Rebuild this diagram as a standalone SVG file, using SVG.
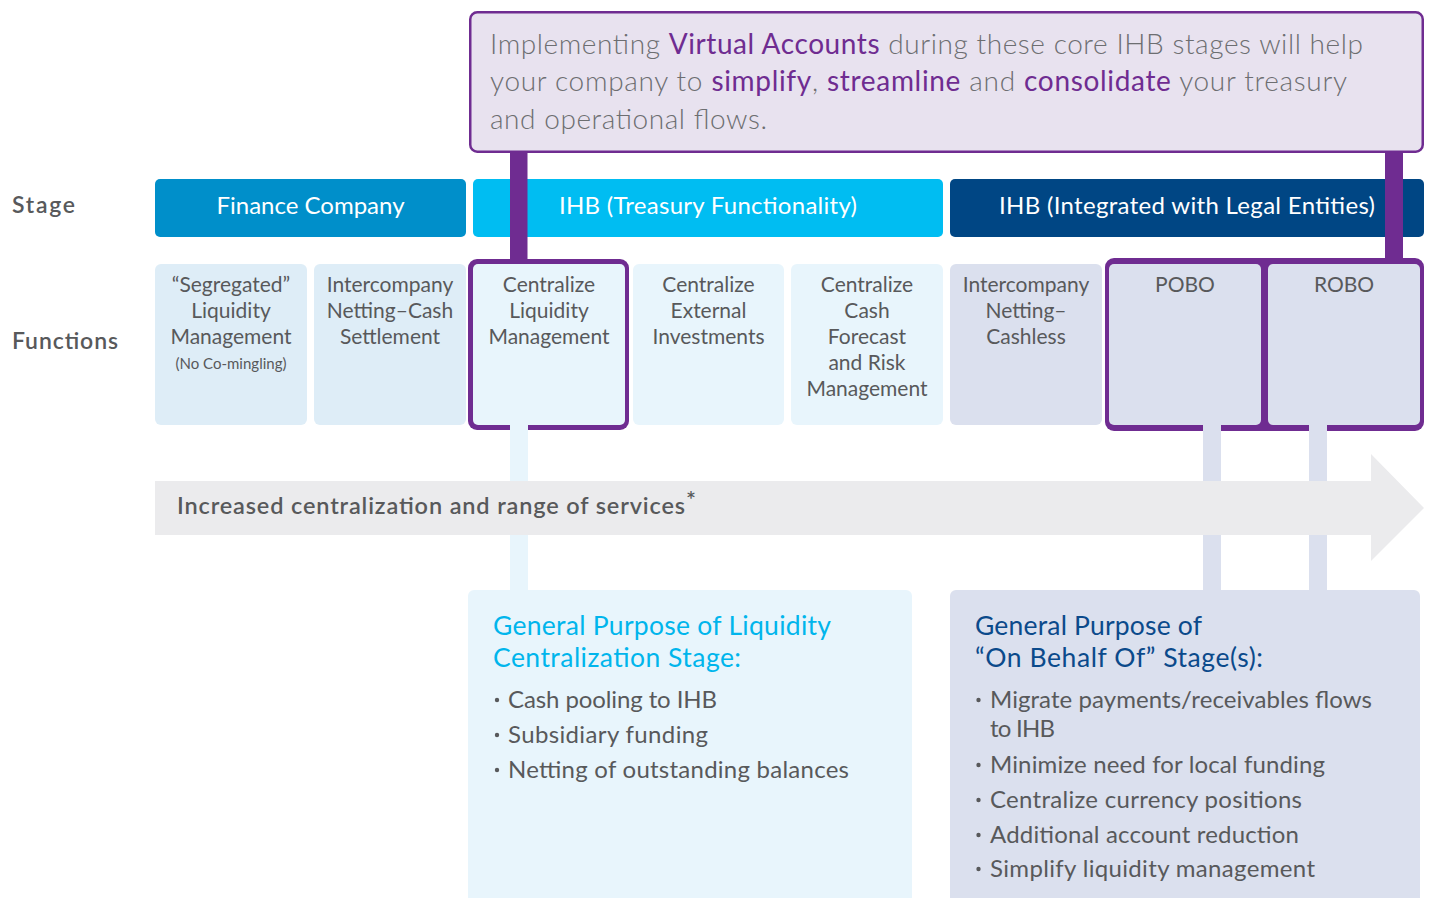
<svg xmlns="http://www.w3.org/2000/svg" width="1429" height="898" viewBox="0 0 1429 898">
  <style>
    text { font-family: Lato, "Open Sans", "Liberation Sans", sans-serif; fill: #58595b; }
    .row-label { font-size: 23px; font-weight: 600; }
    .stage-text { font-size: 24px; fill: #ffffff; text-anchor: middle; }
    .fn-text { font-size: 21px; text-anchor: middle; }
    .fn-note { font-size: 15px; text-anchor: middle; }
    .callout-text { font-size: 28px; font-weight: 300; fill: #6d6e71; }
    .em { font-weight: 400; fill: #6f2c91; }
    .arrow-text { font-size: 23.5px; font-weight: 600; fill: #58595b; }
    .head-cyan { font-size: 26.5px; fill: #00b5ec; }
    .head-navy { font-size: 26.5px; fill: #0b4a8b; }
    .bullet { font-size: 24px; }
    .dot { fill: #58595b; }
    .fn-a { fill: #deedf7; }
    .fn-b { fill: #e8f5fc; }
    .fn-c { fill: #dbe0ee; }
    .frame { fill: #6f2c91; }
  </style>

  <!-- row labels -->
  <g id="labels">
    <text class="row-label" x="12" y="213" textLength="63">Stage</text>
    <text class="row-label" x="12" y="349" textLength="106">Functions</text>
  </g>

  <!-- stage bars -->
  <g id="stage-finance">
    <rect x="155" y="179" width="311" height="58" rx="5" fill="#008fca"/>
    <text class="stage-text" x="310.5" y="214" textLength="188">Finance Company</text>
  </g>
  <g id="stage-ihb-treasury">
    <rect x="473" y="179" width="470" height="58" rx="5" fill="#00bdf2"/>
    <text class="stage-text" x="708" y="214" textLength="298">IHB (Treasury Functionality)</text>
  </g>
  <g id="stage-ihb-integrated">
    <rect x="950" y="179" width="474" height="58" rx="5" fill="#004684"/>
    <text class="stage-text" x="1187" y="214" textLength="376">IHB (Integrated with Legal Entities)</text>
  </g>

  <!-- function boxes -->
  <g id="fn-segregated">
    <rect class="fn-a" x="155" y="264" width="152" height="161" rx="6"/>
    <text class="fn-text" x="231" y="292">“Segregated”</text>
    <text class="fn-text" x="231" y="318">Liquidity</text>
    <text class="fn-text" x="231" y="344">Management</text>
    <text class="fn-note" x="231" y="369">(No Co-mingling)</text>
  </g>
  <g id="fn-netting-cash">
    <rect class="fn-a" x="314" y="264" width="152" height="161" rx="6"/>
    <text class="fn-text" x="390" y="292">Intercompany</text>
    <text class="fn-text" x="390" y="318">Netting–Cash</text>
    <text class="fn-text" x="390" y="344">Settlement</text>
  </g>
  <g id="fn-centralize-liquidity">
    <rect class="frame" x="468" y="259" width="161" height="171" rx="9"/>
    <rect class="fn-b" x="473" y="264" width="152" height="161" rx="5"/>
    <text class="fn-text" x="549" y="292">Centralize</text>
    <text class="fn-text" x="549" y="318">Liquidity</text>
    <text class="fn-text" x="549" y="344">Management</text>
  </g>
  <g id="fn-external-investments">
    <rect class="fn-b" x="633" y="264" width="151" height="161" rx="6"/>
    <text class="fn-text" x="708.5" y="292">Centralize</text>
    <text class="fn-text" x="708.5" y="318">External</text>
    <text class="fn-text" x="708.5" y="344">Investments</text>
  </g>
  <g id="fn-cash-forecast">
    <rect class="fn-b" x="791" y="264" width="152" height="161" rx="6"/>
    <text class="fn-text" x="867" y="292">Centralize</text>
    <text class="fn-text" x="867" y="318">Cash</text>
    <text class="fn-text" x="867" y="344">Forecast</text>
    <text class="fn-text" x="867" y="370">and Risk</text>
    <text class="fn-text" x="867" y="396">Management</text>
  </g>
  <g id="fn-netting-cashless">
    <rect class="fn-c" x="950" y="264" width="152" height="161" rx="6"/>
    <text class="fn-text" x="1026" y="292">Intercompany</text>
    <text class="fn-text" x="1026" y="318">Netting–</text>
    <text class="fn-text" x="1026" y="344">Cashless</text>
  </g>
  <g id="fn-obo-frame">
    <rect class="frame" x="1105" y="258" width="319" height="173" rx="9"/>
  </g>
  <g id="fn-pobo">
    <rect class="fn-c" x="1109" y="264" width="152" height="161" rx="5"/>
    <text class="fn-text" x="1185" y="292">POBO</text>
  </g>
  <g id="fn-robo">
    <rect class="fn-c" x="1268" y="264" width="152" height="161" rx="5"/>
    <text class="fn-text" x="1344" y="292">ROBO</text>
  </g>

  <!-- virtual accounts callout -->
  <g id="callout">
    <rect x="470.25" y="12.25" width="952.5" height="139.5" rx="7" fill="#e8e2ef" stroke="#6f2c91" stroke-width="2.5"/>
    <text class="callout-text" x="490" y="54" textLength="873">Implementing <tspan class="em">Virtual Accounts</tspan> during these core IHB stages will help</text>
    <text class="callout-text" x="490" y="91" textLength="857">your company to <tspan class="em">simplify</tspan>, <tspan class="em">streamline</tspan> and <tspan class="em">consolidate</tspan> your treasury</text>
    <text class="callout-text" x="490" y="129" textLength="277">and operational flows.</text>
  </g>

  <!-- connectors -->
  <g id="connectors">
    <rect x="510" y="151" width="17.5" height="110" fill="#6f2c91"/>
    <rect x="1385" y="151" width="18" height="110" fill="#6f2c91"/>
    <rect x="510" y="425" width="18" height="166" fill="#e8f5fc"/>
    <rect x="1203" y="425" width="18" height="166" fill="#dbe0ee"/>
    <rect x="1309" y="425" width="18" height="166" fill="#dbe0ee"/>
  </g>

  <!-- progression arrow -->
  <g id="progress-arrow">
    <polygon points="155,481 1371,481 1371,454 1424,508 1371,561 1371,535 155,535" fill="#ebebed"/>
    <text class="arrow-text" x="177" y="514" textLength="508">Increased centralization and range of services</text>
    <text class="arrow-text" x="686" y="508" font-size="12">*</text>
  </g>

  <!-- purpose panels -->
  <g id="purpose-liquidity">
    <rect x="468" y="590" width="444" height="320" rx="6" fill="#e8f5fc"/>
    <text class="head-cyan" x="493" y="635" textLength="338">General Purpose of Liquidity</text>
    <text class="head-cyan" x="493" y="667" textLength="248">Centralization Stage:</text>
    <circle class="dot" cx="497" cy="700" r="2.2"/>
    <text class="bullet" x="508" y="708" textLength="209">Cash pooling to IHB</text>
    <circle class="dot" cx="497" cy="735" r="2.2"/>
    <text class="bullet" x="508" y="743" textLength="200">Subsidiary funding</text>
    <circle class="dot" cx="497" cy="770" r="2.2"/>
    <text class="bullet" x="508" y="778" textLength="341">Netting of outstanding balances</text>
  </g>
  <g id="purpose-obo">
    <rect x="950" y="590" width="470" height="320" rx="6" fill="#dbe0ee"/>
    <text class="head-navy" x="975" y="635" textLength="227">General Purpose of</text>
    <text class="head-navy" x="975" y="667" textLength="288">“On Behalf Of” Stage(s):</text>
    <circle class="dot" cx="978.5" cy="700" r="2.2"/>
    <text class="bullet" x="990" y="708" textLength="382">Migrate payments/receivables flows</text>
    <text class="bullet" x="990" y="737" textLength="65">to IHB</text>
    <circle class="dot" cx="978.5" cy="765" r="2.2"/>
    <text class="bullet" x="990" y="773" textLength="335">Minimize need for local funding</text>
    <circle class="dot" cx="978.5" cy="800" r="2.2"/>
    <text class="bullet" x="990" y="808" textLength="312">Centralize currency positions</text>
    <circle class="dot" cx="978.5" cy="835" r="2.2"/>
    <text class="bullet" x="990" y="843" textLength="309">Additional account reduction</text>
    <circle class="dot" cx="978.5" cy="869" r="2.2"/>
    <text class="bullet" x="990" y="877" textLength="325">Simplify liquidity management</text>
  </g>
</svg>
